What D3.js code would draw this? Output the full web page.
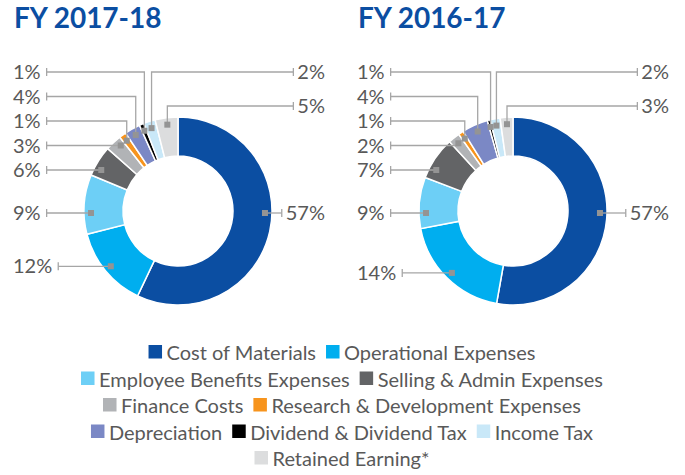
<!DOCTYPE html>
<meta charset="utf-8" />
<html lang="en">
  <head>
    <script src="https://d3js.org/d3.v7.min.js"></script>
    <style>
      body {
        margin: 0;
        background: #fff;
      }
      svg text {
        font-family: Lato, "Noto Sans", sans-serif;
        fill: #595959;
        font-size: 20px;
      }
      svg text.title {
        font-weight: 700;
        font-size: 28px;
        fill: #0b4ea2;
      }
      .slices path {
        stroke: #fff;
        stroke-width: 1.5px;
      }
      .leader {
        fill: none;
        stroke: #a6a6a6;
        stroke-width: 1.3px;
      }
      .marker {
        fill: #949494;
      }
    </style>
  </head>
  <body>
    <svg width="685" height="475"></svg>
    <script>
      var categories = [
        "Cost of Materials",
        "Operational Expenses",
        "Employee Benefits Expenses",
        "Selling & Admin Expenses",
        "Finance Costs",
        "Research & Development Expenses",
        "Depreciation",
        "Dividend & Dividend Tax",
        "Income Tax",
        "Retained Earning*"
      ];
      var colors = [
        "#0b4ea2", "#00aeef", "#6dcff6", "#636466", "#b1b3b6",
        "#f7941d", "#7b88c5", "#000000", "#c9e8f8", "#dcddde"
      ];

      // slice sizes as drawn, and the percentages printed on the chart
      var share1718 = [56.9, 13.9, 10.2, 5.3, 2.8, 1.2, 2.7, 0.8, 2.0, 3.9];
      var labels1718 = ["57%", "12%", "9%", "6%", "3%", "1%", "4%", "1%", "2%", "5%"];
      var share1617 = [52.8, 19.2, 8.8, 7.4, 2.0, 0.9, 4.5, 0.5, 1.7, 2.2];
      var labels1617 = ["57%", "14%", "9%", "7%", "2%", "1%", "4%", "1%", "2%", "3%"];

      var legendRows = [[0, 1], [2, 3], [4, 5], [6, 7, 8], [9]];

      var svg = d3.select("svg");
      var color = d3.scaleOrdinal().domain(categories).range(colors);

      var innerR = 55,
        outerR = 94,
        markR = 87,
        gap = 24.5;
      var pie = d3.pie().sort(null).value(d => d);
      var arc = d3.arc().innerRadius(innerR).outerRadius(outerR);

      function donut(title, shares, labels, cx, cy, left, right) {
        var g = svg.append("g");

        g.append("text")
          .attr("class", "title")
          .attr("x", left + 1)
          .attr("y", 28)
          .text(title);

        var arcs = pie(shares);

        g.append("g")
          .attr("class", "slices")
          .attr("transform", "translate(" + cx + "," + cy + ")")
          .selectAll("path")
          .data(arcs)
          .enter()
          .append("path")
          .attr("fill", (d, i) => color(categories[i]))
          .attr("d", arc);

        var n = arcs.length;
        var yAt = a => cy - markR * Math.cos(a);
        var items = arcs.map(function(d, i) {
          var mid = (d.startAngle + d.endAngle) / 2;
          return { d: d, i: i, text: labels[i], mid: mid, ny: yAt(mid), right: i === 0 || i >= n - 2 };
        });

        var topY = cy - outerR - 11;
        var firstRow = topY - 34;
        var across = (d, a) => d.startAngle < a && d.endAngle > a;

        // left labels: the crowded ones near the top get evenly spaced rows,
        // a slice crossing 9 o'clock is labelled level with it, the rest level with their slice
        var leftItems = items.filter(d => !d.right).sort((a, b) => a.ny - b.ny);
        var prev = firstRow - gap;
        leftItems.forEach(function(d, k) {
          var slot = firstRow + k * gap;
          var want = d.ny < cy - 40 ? slot : across(d.d, 1.5 * Math.PI) ? cy + 2 : d.ny;
          d.ly = Math.max(want, prev + gap);
          prev = d.ly;
        });

        // right labels: big slice at the 3 o'clock line, small top ones above the ring
        items[0].ly = cy + 2;
        var ty = topY;
        for (var k = n - 1; k >= n - 2; k--) {
          items[k].ly = ty;
          ty -= 34;
        }

        // leader end: level with the label when the slice reaches that height, else mid angle
        items.forEach(function(it) {
          var a = it.mid;
          if (it.i < n - 2 && Math.abs(cy - it.ly) < markR) {
            var c = Math.acos((cy - it.ly) / markR);
            var cand = it.right ? c : 2 * Math.PI - c;
            var m = 0.03;
            if (cand > it.d.startAngle + m && cand < it.d.endAngle - m) a = cand;
          }
          it.mx = cx + markR * Math.sin(a);
          it.my = yAt(a);
        });

        var lg = g.append("g");
        items.forEach(function(d) {
          var t = lg.append("text")
            .attr("y", d.ly + 7)
            .text(d.text);
          var tick;
          if (d.right) {
            t.attr("x", right).attr("text-anchor", "end");
            tick = right - t.node().getComputedTextLength() - 4;
            lg.append("path")
              .attr("class", "leader")
              .attr("d", "M" + d.mx + "," + d.my + "V" + d.ly + "H" + tick);
          } else {
            t.attr("x", left);
            tick = left + t.node().getComputedTextLength() + 6;
            lg.append("path")
              .attr("class", "leader")
              .attr("d", "M" + tick + "," + d.ly + "H" + d.mx + "V" + d.my);
          }
          lg.append("path")
            .attr("class", "leader")
            .attr("d", "M" + tick + "," + (d.ly - 4) + "V" + (d.ly + 4));
          lg.append("rect")
            .attr("class", "marker")
            .attr("x", d.mx - 3)
            .attr("y", d.my - 3)
            .attr("width", 6)
            .attr("height", 6);
        });
      }

      donut("FY 2017-18", share1718, labels1718, 178, 211, 13, 325);
      donut("FY 2016-17", share1617, labels1617, 513, 211, 357, 669);

      // legend, rows centred under both charts
      var legend = svg.append("g").attr("class", "legend");
      legendRows.forEach(function(row, r) {
        var y = 360 + r * 26.5;
        var rowG = legend.append("g");
        var x = 0;
        row.forEach(function(ci) {
          rowG.append("rect")
            .attr("x", x)
            .attr("y", y - 15)
            .attr("width", 13.5)
            .attr("height", 13.5)
            .attr("fill", color(categories[ci]));
          var t = rowG.append("text")
            .attr("x", x + 18)
            .attr("y", y)
            .text(categories[ci]);
          x += 18 + t.node().getComputedTextLength() + 10;
        });
        var w = x - 10;
        rowG.attr("transform", "translate(" + (342 - w / 2) + ",0)");
      });
    </script>
  </body>
</html>
